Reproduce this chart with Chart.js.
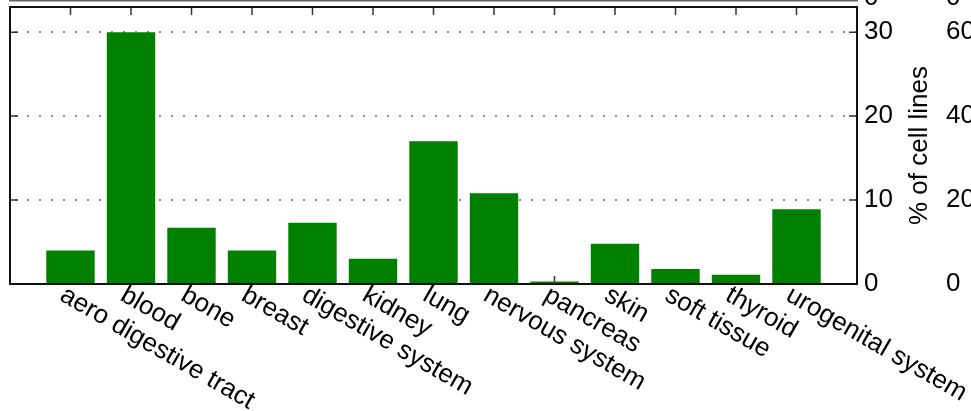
<!DOCTYPE html>
<html>
<head>
<meta charset="utf-8">
<script src="https://cdn.jsdelivr.net/npm/chart.js@4.4.1/dist/chart.umd.min.js"></script>
<style>
  html, body { margin: 0; padding: 0; background: #fff; overflow: hidden; }
  #wrap { position: relative; width: 971px; height: 411px; }
</style>
</head>
<body>
<div id="wrap"><canvas id="c"></canvas></div>
<script>
// Tissue of origin and share of cell lines (%)
const tissues = [
  'aero digestive tract', 'blood', 'bone', 'breast', 'digestive system',
  'kidney', 'lung', 'nervous system', 'pancreas', 'skin',
  'soft tissue', 'thyroid', 'urogenital system'
];
const cellLinePct = [4.0, 30.0, 6.7, 4.0, 7.3, 3.0, 17.0, 10.8, 0.3, 4.8, 1.8, 1.1, 8.9];

// Axis ticks
const pctTicks = [0, 10, 20, 30];
const pctMax = 33;
const neighbourTicks = [0, 20, 40, 60];
const neighbourMax = 66;
const yTitle = '% of cell lines';

const FONT = "'Liberation Sans', Arial, sans-serif";
const FS = 26;

// Boxed frame with inward tick marks, rotated tissue labels and axis title
const framePlugin = {
  id: 'frame',
  beforeDatasetsDraw(chart) {
    const { ctx, chartArea: a, scales: { x, y } } = chart;
    ctx.save();
    ctx.strokeStyle = '#333';
    ctx.lineWidth = 1.5;
    ctx.beginPath();
    tissues.forEach((_, i) => {
      const px = x.getPixelForValue(i + 1);
      ctx.moveTo(px, a.top); ctx.lineTo(px, a.top + 8);
      ctx.moveTo(px, a.bottom); ctx.lineTo(px, a.bottom - 8);
    });
    pctTicks.forEach(v => {
      const py = y.getPixelForValue(v);
      ctx.moveTo(a.left, py); ctx.lineTo(a.left + 8, py);
      ctx.moveTo(a.right, py); ctx.lineTo(a.right - 8, py);
    });
    ctx.stroke();
    ctx.restore();
  },
  afterDatasetsDraw(chart) {
    const { ctx, chartArea: a } = chart;
    ctx.save();
    ctx.strokeStyle = '#111';
    ctx.lineWidth = 2;
    ctx.strokeRect(a.left, a.top, a.right - a.left, a.bottom - a.top);
    ctx.restore();
  },
  afterDraw(chart) {
    const { ctx, chartArea: a, scales: { x, y, y2 } } = chart;
    ctx.save();
    ctx.fillStyle = '#000';
    ctx.font = FS + 'px ' + FONT;

    // tissue labels, slanted downwards
    ctx.textAlign = 'left';
    ctx.textBaseline = 'alphabetic';
    tissues.forEach((t, i) => {
      const px = x.getPixelForValue(i + 1);
      ctx.save();
      ctx.translate(px - 12, a.bottom + 15.5);
      ctx.rotate(Math.PI / 6);
      ctx.fillText(t, 0, 0);
      ctx.restore();
    });

    // axis title, reading upwards
    ctx.save();
    ctx.translate(927, (a.top + a.bottom) / 2);
    ctx.rotate(-Math.PI / 2);
    ctx.textAlign = 'center';
    ctx.textBaseline = 'alphabetic';
    ctx.fillText(yTitle, 0, 0);
    ctx.restore();

    // edge of the panel above
    ctx.fillStyle = '#666';
    ctx.fillRect(a.left - 1, 0, a.right - a.left + 2, 1.5);
    ctx.fillStyle = '#000';
    ctx.textAlign = 'left';
    ctx.textBaseline = 'middle';
    ctx.fillText('0', y.left + y.options.ticks.padding, -2);
    ctx.fillText('0', y2.left + y2.options.ticks.padding, -2);
    ctx.restore();
  }
};

function pinWidth(w) {
  return s => {
    s.width = w;
    s.paddingTop = 0;
    s.paddingBottom = 0;
  };
}

new Chart(document.getElementById('c'), {
  type: 'bar',
  data: {
    datasets: [{
      data: cellLinePct.map((v, i) => ({ x: i + 1, y: v })),
      backgroundColor: '#008000',
      borderWidth: 0,
      barPercentage: 0.8,
      categoryPercentage: 1.0
    }]
  },
  options: {
    responsive: true,
    maintainAspectRatio: false,
    animation: false,
    layout: { padding: { left: 10, top: 7, right: 0, bottom: 127 } },
    plugins: { legend: { display: false }, tooltip: { enabled: false } },
    scales: {
      x: {
        type: 'linear',
        offset: false,
        min: 0,
        max: tissues.length + 1,
        display: false,
        afterBuildTicks: s => { s.ticks = tissues.map((_, i) => ({ value: i + 1 })); }
      },
      y: {
        position: 'right',
        weight: 0,
        min: 0,
        max: pctMax,
        afterBuildTicks: s => { s.ticks = pctTicks.map(v => ({ value: v })); },
        afterFit: pinWidth(80),
        grid: {
          color: '#8a8a8a',
          lineWidth: 2,
          drawTicks: false
        },
        border: { display: false, dash: [2, 10], dashOffset: 7 },
        ticks: {
          padding: 7,
          color: '#000',
          font: { family: FONT, size: FS }
        }
      },
      y2: {
        position: 'right',
        weight: 1,
        min: 0,
        max: neighbourMax,
        afterBuildTicks: s => { s.ticks = neighbourTicks.map(v => ({ value: v })); },
        afterFit: pinWidth(34),
        grid: { display: false, drawTicks: false },
        border: { display: false },
        ticks: {
          padding: 9,
          color: '#000',
          font: { family: FONT, size: FS }
        }
      }
    }
  },
  plugins: [framePlugin]
});
</script>
</body>
</html>
